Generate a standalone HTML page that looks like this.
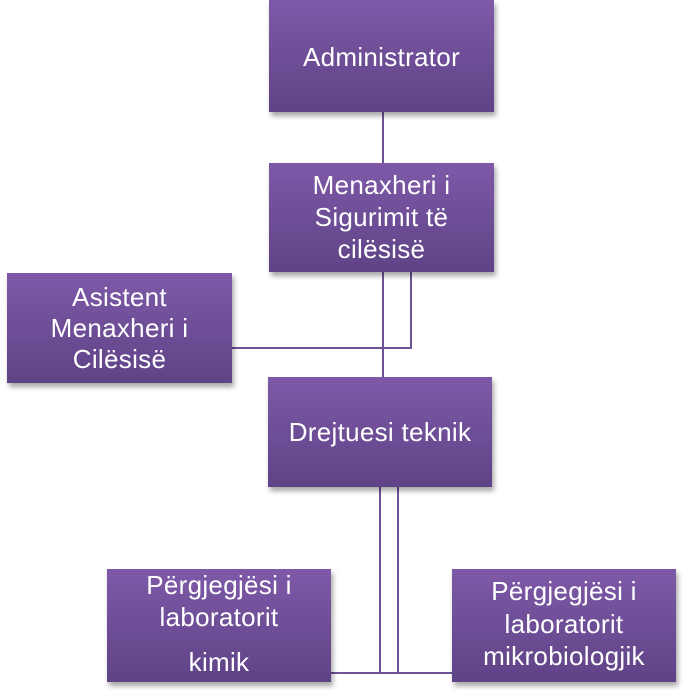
<!DOCTYPE html>
<html><head><meta charset="utf-8"><style>
body{margin:0;width:685px;height:690px;background:#fff;position:relative;overflow:hidden;font-family:"Liberation Sans",sans-serif}
.b{position:absolute;background:linear-gradient(#7e59a8,#5f4386);box-shadow:2px 4px 5px rgba(0,0,0,0.35)}
.t{position:absolute;color:#fff;font-size:26px;text-align:center;line-height:30px;transform:translateY(-15px);white-space:nowrap;letter-spacing:0.3px}
svg{position:absolute;left:0;top:0}
</style></head><body>
<svg width="685" height="690"><g stroke="#6c5296" stroke-width="2" fill="none">
<line x1="383" y1="110" x2="383" y2="165"/>
<line x1="383" y1="270" x2="383" y2="378"/>
<polyline points="411,270 411,348 230,348"/>
<line x1="380" y1="485" x2="380" y2="673"/>
<line x1="398" y1="485" x2="398" y2="673"/>
<line x1="329" y1="673" x2="454" y2="673"/>
</g></svg>
<div class="b" style="left:269px;top:0;width:225px;height:112px"></div>
<div class="b" style="left:269px;top:163px;width:225px;height:109px"></div>
<div class="b" style="left:7px;top:273px;width:225px;height:110px"></div>
<div class="b" style="left:268px;top:377px;width:224px;height:110px"></div>
<div class="b" style="left:107px;top:569px;width:224px;height:113px"></div>
<div class="b" style="left:452px;top:569px;width:224px;height:113px"></div>
<div class="t" style="left:269px;width:225px;top:57px">Administrator</div>
<div class="t" style="left:269px;width:225px;top:185px">Menaxheri i</div>
<div class="t" style="left:269px;width:225px;top:217px">Sigurimit të</div>
<div class="t" style="left:269px;width:225px;top:249px">cilësisë</div>
<div class="t" style="left:7px;width:225px;top:297px">Asistent</div>
<div class="t" style="left:7px;width:225px;top:328px">Menaxheri i</div>
<div class="t" style="left:7px;width:225px;top:359px">Cilësisë</div>
<div class="t" style="left:268px;width:224px;top:432px">Drejtuesi teknik</div>
<div class="t" style="left:107px;width:224px;top:585px">Përgjegjësi i</div>
<div class="t" style="left:107px;width:224px;top:617px">laboratorit</div>
<div class="t" style="left:107px;width:224px;top:662px">kimik</div>
<div class="t" style="left:452px;width:224px;top:591px">Përgjegjësi i</div>
<div class="t" style="left:452px;width:224px;top:624px">laboratorit</div>
<div class="t" style="left:452px;width:224px;top:656px">mikrobiologjik</div>
</body></html>
